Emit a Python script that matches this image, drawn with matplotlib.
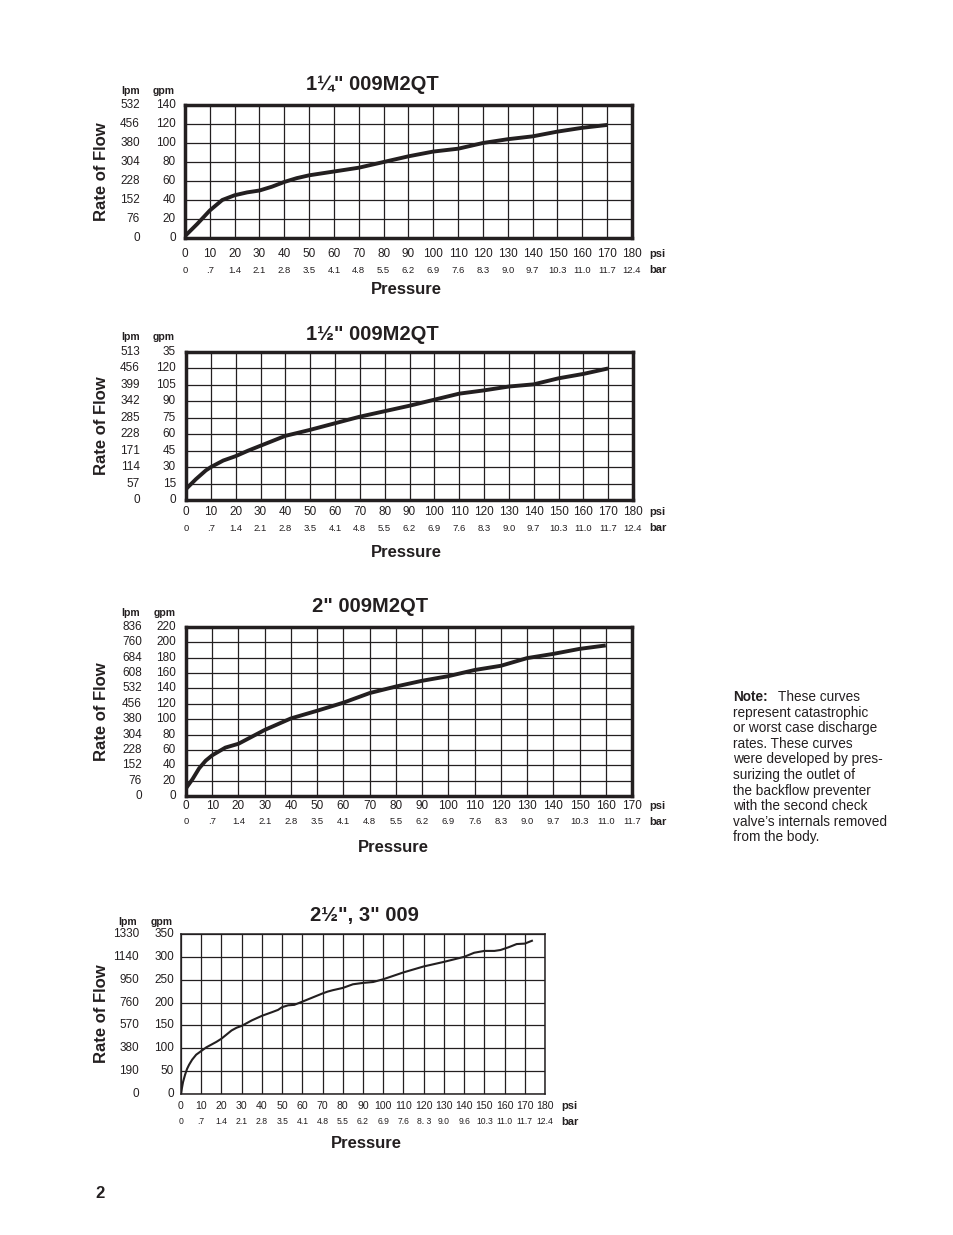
import matplotlib
matplotlib.use('Agg')
import matplotlib.pyplot as plt
from matplotlib.transforms import blended_transform_factory as btf

# ---------------- data ----------------
# Chart 1: 1 1/4" 009M2QT
c1_psi = [0, 5, 10, 15, 20, 25, 30, 35, 40, 45, 50, 60, 70, 80, 90, 100, 110, 120, 130, 140, 150, 160, 170]
c1_gpm = [2, 15, 29, 40, 45, 48, 50, 54, 59, 63, 66, 70, 74, 80, 86, 91, 94, 100, 104, 107, 112, 116, 119]
c1_gpm_ticks = [0, 20, 40, 60, 80, 100, 120, 140]
c1_gpm_labels = ["0", "20", "40", "60", "80", "100", "120", "140"]
c1_lpm_labels = ["0", "76", "152", "228", "304", "380", "456", "532"]
c1_psi_ticks = [0, 10, 20, 30, 40, 50, 60, 70, 80, 90, 100, 110, 120, 130, 140, 150, 160, 170, 180]
c1_psi_labels = ["0", "10", "20", "30", "40", "50", "60", "70", "80", "90", "100", "110",
                 "120", "130", "140", "150", "160", "170", "180"]
c1_bar_labels = ["0", ".7", "1.4", "2.1", "2.8", "3.5", "4.1", "4.8", "5.5", "6.2", "6.9", "7.6",
                 "8.3", "9.0", "9.7", "10.3", "11.0", "11.7", "12.4"]

# Chart 2: 1 1/2" 009M2QT
c2_psi = [0, 4, 8, 10, 15, 20, 25, 30, 40, 50, 60, 70, 80, 90, 100, 110, 120, 130, 140, 150, 160, 170]
c2_gpm = [10, 19, 27, 30, 36, 40, 45, 49.5, 58.5, 64, 70, 76, 81, 86, 91.5, 97, 100, 103.5, 105.5, 111, 115, 120]
c2_gpm_ticks = [0, 15, 30, 45, 60, 75, 90, 105, 120, 135]
c2_gpm_labels = ["0", "15", "30", "45", "60", "75", "90", "105", "120", "35"]
c2_lpm_labels = ["0", "57", "114", "171", "228", "285", "342", "399", "456", "513"]
c2_psi_ticks = [0, 10, 20, 30, 40, 50, 60, 70, 80, 90, 100, 110, 120, 130, 140, 150, 160, 170, 180]
c2_psi_labels = ["0", "10", "20", "30", "40", "50", "60", "70", "80", "90", "100", "110",
                 "120", "130", "140", "150", "160", "170", "180"]
c2_bar_labels = ["0", ".7", "1.4", "2.1", "2.8", "3.5", "4.1", "4.8", "5.5", "6.2", "6.9", "7.6",
                 "8.3", "9.0", "9.7", "10.3", "11.0", "11.7", "12.4"]

# Chart 3: 2" 009M2QT
c3_psi = [0, 2.5, 5, 7.5, 10, 15, 20, 30, 40, 50, 60, 70, 80, 90, 100, 110, 120, 130, 140, 150, 160]
c3_gpm = [10, 22, 36, 46, 53, 63, 68, 86, 101, 111, 121.5, 134, 142.5, 150, 156, 164, 169.5, 179.5, 185, 191.5, 196]
c3_gpm_ticks = [0, 20, 40, 60, 80, 100, 120, 140, 160, 180, 200, 220]
c3_gpm_labels = ["0", "20", "40", "60", "80", "100", "120", "140", "160", "180", "200", "220"]
c3_lpm_labels = ["0", "76", "152", "228", "304", "380", "456", "532", "608", "684", "760", "836"]
c3_psi_ticks = [0, 10, 20, 30, 40, 50, 60, 70, 80, 90, 100, 110, 120, 130, 140, 150, 160, 170]
c3_psi_labels = ["0", "10", "20", "30", "40", "50", "60", "70", "80", "90", "100", "110",
                 "120", "130", "140", "150", "160", "170"]
c3_bar_labels = ["0", ".7", "1.4", "2.1", "2.8", "3.5", "4.1", "4.8", "5.5", "6.2", "6.9", "7.6",
                 "8.3", "9.0", "9.7", "10.3", "11.0", "11.7"]

# Chart 4: 2 1/2", 3" 009
c4_psi = [0, 0.5, 1, 2, 3, 4, 5.5, 7.5, 10, 12.5, 15, 17.5, 20, 22.5, 25, 27.5, 30, 35, 40, 45, 48,
          50, 53, 56, 60, 65, 70, 72.5, 75, 80, 85, 90, 95, 100, 110, 120, 130, 140, 145, 150,
          155, 158, 162, 166, 170, 174]
c4_gpm = [0, 14, 26, 42, 55, 64, 75, 86, 94, 102, 108, 114, 121, 130, 139, 145, 149, 161, 171, 179, 184,
          190, 194, 195, 202, 211, 220, 224, 227, 232, 240, 243, 245, 251, 266, 279, 289, 300, 309, 313,
          313, 315, 321, 328, 329, 336]
c4_gpm_ticks = [0, 50, 100, 150, 200, 250, 300, 350]
c4_gpm_labels = ["0", "50", "100", "150", "200", "250", "300", "350"]
c4_lpm_labels = ["0", "190", "380", "570", "760", "950", "1140", "1330"]
c4_psi_ticks = [0, 10, 20, 30, 40, 50, 60, 70, 80, 90, 100, 110, 120, 130, 140, 150, 160, 170, 180]
c4_psi_labels = ["0", "10", "20", "30", "40", "50", "60", "70", "80", "90", "100", "110",
                 "120", "130", "140", "150", "160", "170", "180"]
c4_bar_labels = ["0", ".7", "1.4", "2.1", "2.8", "3.5", "4.1", "4.8", "5.5", "6.2", "6.9", "7.6",
                 "8. 3", "9.0", "9.6", "10.3", "11.0", "11.7", "12.4"]

titles = ['1¼" 009M2QT', '1½" 009M2QT', '2" 009M2QT', '2½", 3" 009']

note_lines = ["represent catastrophic", "or worst case discharge", "rates. These curves",
              "were developed by pres-", "surizing the outlet of", "the backflow preventer",
              "with the second check", "valve’s internals removed", "from the body."]

# ---------------- drawing ----------------
W, H = 954, 1235
fig = plt.figure(figsize=(W / 100, H / 100), dpi=100)
fig.patch.set_facecolor('white')

NARROW = ['Liberation Sans Narrow', 'Liberation Sans', 'DejaVu Sans']
SANS = ['Liberation Sans', 'DejaVu Sans']
INK = '#231f20'


def fx(x):
    return x / W


def fy(y):
    return 1 - y / H


def draw(title, psi, gpm, gpm_ticks, gpm_labels, lpm_labels, psi_ticks, psi_labels, bar_labels, L):
    x0, y0, x1, y1 = L['frame']
    ax = fig.add_axes([fx(x0), fy(y1), (x1 - x0) / W, (y1 - y0) / H])
    ax.set_xlim(psi_ticks[0], psi_ticks[-1])
    ax.set_ylim(gpm_ticks[0], gpm_ticks[-1])
    ax.set_xticks(psi_ticks)
    ax.set_yticks(gpm_ticks)
    ax.tick_params(length=0, labelbottom=False, labelleft=False)
    ax.set_axisbelow(True)
    ax.grid(True, color=INK, lw=0.9)
    for s in ax.spines.values():
        s.set_linewidth(L['spine_lw'])
        s.set_color(INK)
        s.set_zorder(3)
    ax.plot(psi, gpm, color=INK, lw=L['line_lw'], solid_joinstyle='round',
            solid_capstyle='butt', zorder=4)

    # y tick labels (gpm and lpm)
    ty = btf(fig.transFigure, ax.transData)
    for v, g, l in zip(gpm_ticks, gpm_labels, lpm_labels):
        fig.text(fx(L['gpm_r']), v, g, transform=ty, ha='right', va='center',
                 family=NARROW, fontsize=L['tick_fs'], color=INK)
        fig.text(fx(L['lpm_r']), v, l, transform=ty, ha='right', va='center',
                 family=NARROW, fontsize=L['tick_fs'], color=INK)
    fig.text(fx(L['lpm_hx']), fy(L['head_y']), 'lpm', ha='center', va='center',
             family=NARROW, fontsize=7.5, fontweight='bold', color=INK)
    fig.text(fx(L['gpm_hx']), fy(L['head_y']), 'gpm', ha='center', va='center',
             family=NARROW, fontsize=7.5, fontweight='bold', color=INK)

    # x tick labels (psi and bar)
    tx = btf(ax.transData, fig.transFigure)
    for v, p, b in zip(psi_ticks, psi_labels, bar_labels):
        fig.text(v, fy(L['psi_y']), p, transform=tx, ha='center', va='center',
                 family=NARROW, fontsize=L['psi_fs'], color=INK)
        fig.text(v, fy(L['bar_y']), b, transform=tx, ha='center', va='center',
                 family=NARROW, fontsize=L['bar_fs'], color=INK)
    fig.text(fx(L['unit_x']), fy(L['psi_y']), 'psi', ha='left', va='center',
             family=NARROW, fontsize=8, fontweight='bold', color=INK)
    fig.text(fx(L['unit_x']), fy(L['bar_y']), 'bar', ha='left', va='center',
             family=NARROW, fontsize=8, fontweight='bold', color=INK)

    # titles and axis names
    fig.text(fx(L['title_x']), fy(L['title_y']), title, ha='center', va='center',
             family=SANS, fontsize=14.5, fontweight='bold', color=INK)
    fig.text(fx(102), fy((y0 + y1) / 2), 'Rate of Flow', rotation=90,
             ha='center', va='center', family=SANS, fontsize=12, fontweight='bold', color=INK)
    fig.text(fx(L['press_x']), fy(L['press_y']), 'Pressure', ha='center', va='center',
             family=SANS, fontsize=12, fontweight='bold', color=INK)
    return ax


L1 = dict(frame=(185, 105, 632, 238), spine_lw=2.5, line_lw=2.8, gpm_r=176, lpm_r=140,
          lpm_hx=131, gpm_hx=164, head_y=91, psi_y=254, bar_y=270, unit_x=649,
          title_x=372, title_y=85, press_x=406, press_y=289,
          tick_fs=8.5, psi_fs=8.5, bar_fs=6.8)
L2 = dict(frame=(186, 352, 633, 500), spine_lw=2.5, line_lw=2.8, gpm_r=176, lpm_r=140,
          lpm_hx=131, gpm_hx=164, head_y=337, psi_y=512, bar_y=528, unit_x=649,
          title_x=372, title_y=335, press_x=406, press_y=553,
          tick_fs=8.5, psi_fs=8.5, bar_fs=6.8)
L3 = dict(frame=(186, 627, 632, 796), spine_lw=2.5, line_lw=2.8, gpm_r=176, lpm_r=142,
          lpm_hx=131, gpm_hx=165, head_y=613, psi_y=806, bar_y=822, unit_x=649,
          title_x=370, title_y=607, press_x=393, press_y=847,
          tick_fs=8.5, psi_fs=8.5, bar_fs=6.8)
L4 = dict(frame=(181, 934, 545, 1094), spine_lw=1.1, line_lw=1.5, gpm_r=174, lpm_r=139,
          lpm_hx=128, gpm_hx=162, head_y=922, psi_y=1106, bar_y=1122, unit_x=561,
          title_x=364, title_y=915, press_x=366, press_y=1143,
          tick_fs=8.5, psi_fs=7.6, bar_fs=6.2)

draw(titles[0], c1_psi, c1_gpm, c1_gpm_ticks, c1_gpm_labels, c1_lpm_labels,
     c1_psi_ticks, c1_psi_labels, c1_bar_labels, L1)
draw(titles[1], c2_psi, c2_gpm, c2_gpm_ticks, c2_gpm_labels, c2_lpm_labels,
     c2_psi_ticks, c2_psi_labels, c2_bar_labels, L2)
draw(titles[2], c3_psi, c3_gpm, c3_gpm_ticks, c3_gpm_labels, c3_lpm_labels,
     c3_psi_ticks, c3_psi_labels, c3_bar_labels, L3)
draw(titles[3], c4_psi, c4_gpm, c4_gpm_ticks, c4_gpm_labels, c4_lpm_labels,
     c4_psi_ticks, c4_psi_labels, c4_bar_labels, L4)

# Note block
nx, ny, step = 733, 697, 15.6
fig.text(fx(nx), fy(ny), 'Note:', ha='left', va='center', family=SANS, fontsize=9.8,
         fontweight='bold', color=INK)
fig.text(fx(nx + 45), fy(ny), 'These curves', ha='left', va='center', family=SANS,
         fontsize=9.8, color=INK)
for i, line in enumerate(note_lines):
    fig.text(fx(nx), fy(ny + step * (i + 1)), line, ha='left', va='center', family=SANS,
             fontsize=9.8, color=INK)

# page number
fig.text(fx(100), fy(1193), '2', ha='center', va='center', family=SANS, fontsize=12,
         fontweight='bold', color=INK)

fig.savefig('out.png', dpi=100, facecolor='white')
